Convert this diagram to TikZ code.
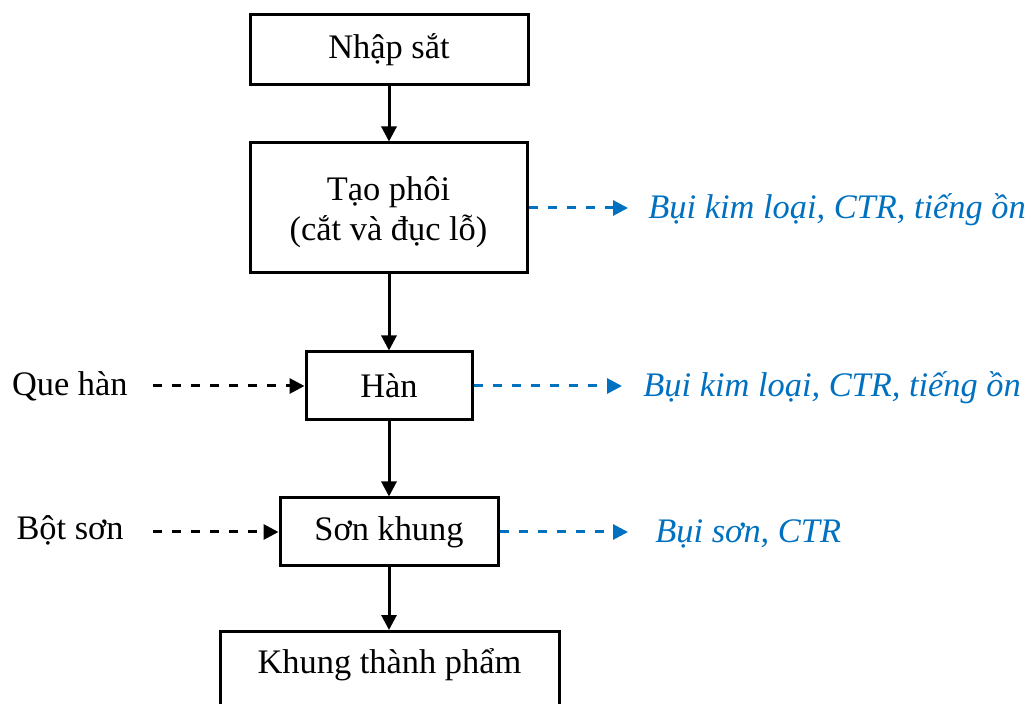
\documentclass[tikz,border=0pt]{standalone}
\usepackage{fontspec}
\setmainfont{Liberation Serif}
\usetikzlibrary{arrows.meta}
\definecolor{cblue}{RGB}{0,112,192}
\begin{document}
\begin{tikzpicture}[x=0.5pt,y=-0.5pt,
 box/.style={draw, line width=1.5pt, inner sep=0pt, align=center, font=\fontsize{17.2}{20}\selectfont},
 flow/.style={line width=1.5pt, -{Triangle[length=7.5pt,width=7.5pt]}},
 dflow/.style={line width=1.5pt, dash pattern=on 4.5pt off 5pt, -{Triangle[length=7.5pt,width=7.5pt]}},
 lbl/.style={font=\fontsize{17.2}{20.6}\selectfont, inner sep=0pt},
 ilbl/.style={inner sep=0pt, font=\fontsize{17.2}{20.6}\selectfont\itshape, text=cblue}]
\clip (0,0) rectangle (1032,704);
\node[box, minimum width=139pt, minimum height=35pt] (n1) at (389,50) {Nhập sắt};
\node[box, minimum width=138.5pt, minimum height=65pt] (n2) at (388.5,208) {\rule{0pt}{16pt}Tạo phôi\\(cắt và đục lỗ)};
\node[box, minimum width=83pt, minimum height=34pt] (n3) at (389,386) {Hàn};
\node[box, minimum width=109pt, minimum height=34pt] (n4) at (389,532) {Sơn khung};
\node[box, minimum width=169.5pt, text height=21pt, text depth=25pt, anchor=north] (n5) at (389.5,630) {Khung thành phẩm};

\draw[flow] (n1.south) -- (n1.south |- n2.north);
\draw[flow] (n1.south |- n2.south) -- (n1.south |- n3.north);
\draw[flow] (n3.south) -- (n3.south |- n4.north);
\draw[flow] (n4.south) -- (n4.south |- n5.north);

\coordinate (e2) at (628,208);
\coordinate (e3) at (622,386);
\coordinate (e4) at (628,532);
\draw[dflow, cblue] (n2.east) -- (e2);
\draw[dflow, cblue] (n3.east) -- (e3);
\draw[dflow, cblue] (n4.east) -- (e4);
\node[ilbl, anchor=base west] (t2) at (648,219) {Bụi kim loại, CTR, tiếng ồn};
\node[ilbl, anchor=base west] (t3) at (643,397) {Bụi kim loại, CTR, tiếng ồn};
\node[ilbl, anchor=base west] (t4) at (655,543) {Bụi sơn, CTR};

\node[lbl, anchor=base east] (q) at (128,396) {Que hàn};
\node[lbl, anchor=base east] (b) at (124,539) {Bột sơn};
\coordinate (s3) at (153,386);
\coordinate (s4) at (153,532);
\draw[dflow] (s3) -- (n3.west);
\draw[dflow] (s4) -- (n4.west);
\end{tikzpicture}
\end{document}
